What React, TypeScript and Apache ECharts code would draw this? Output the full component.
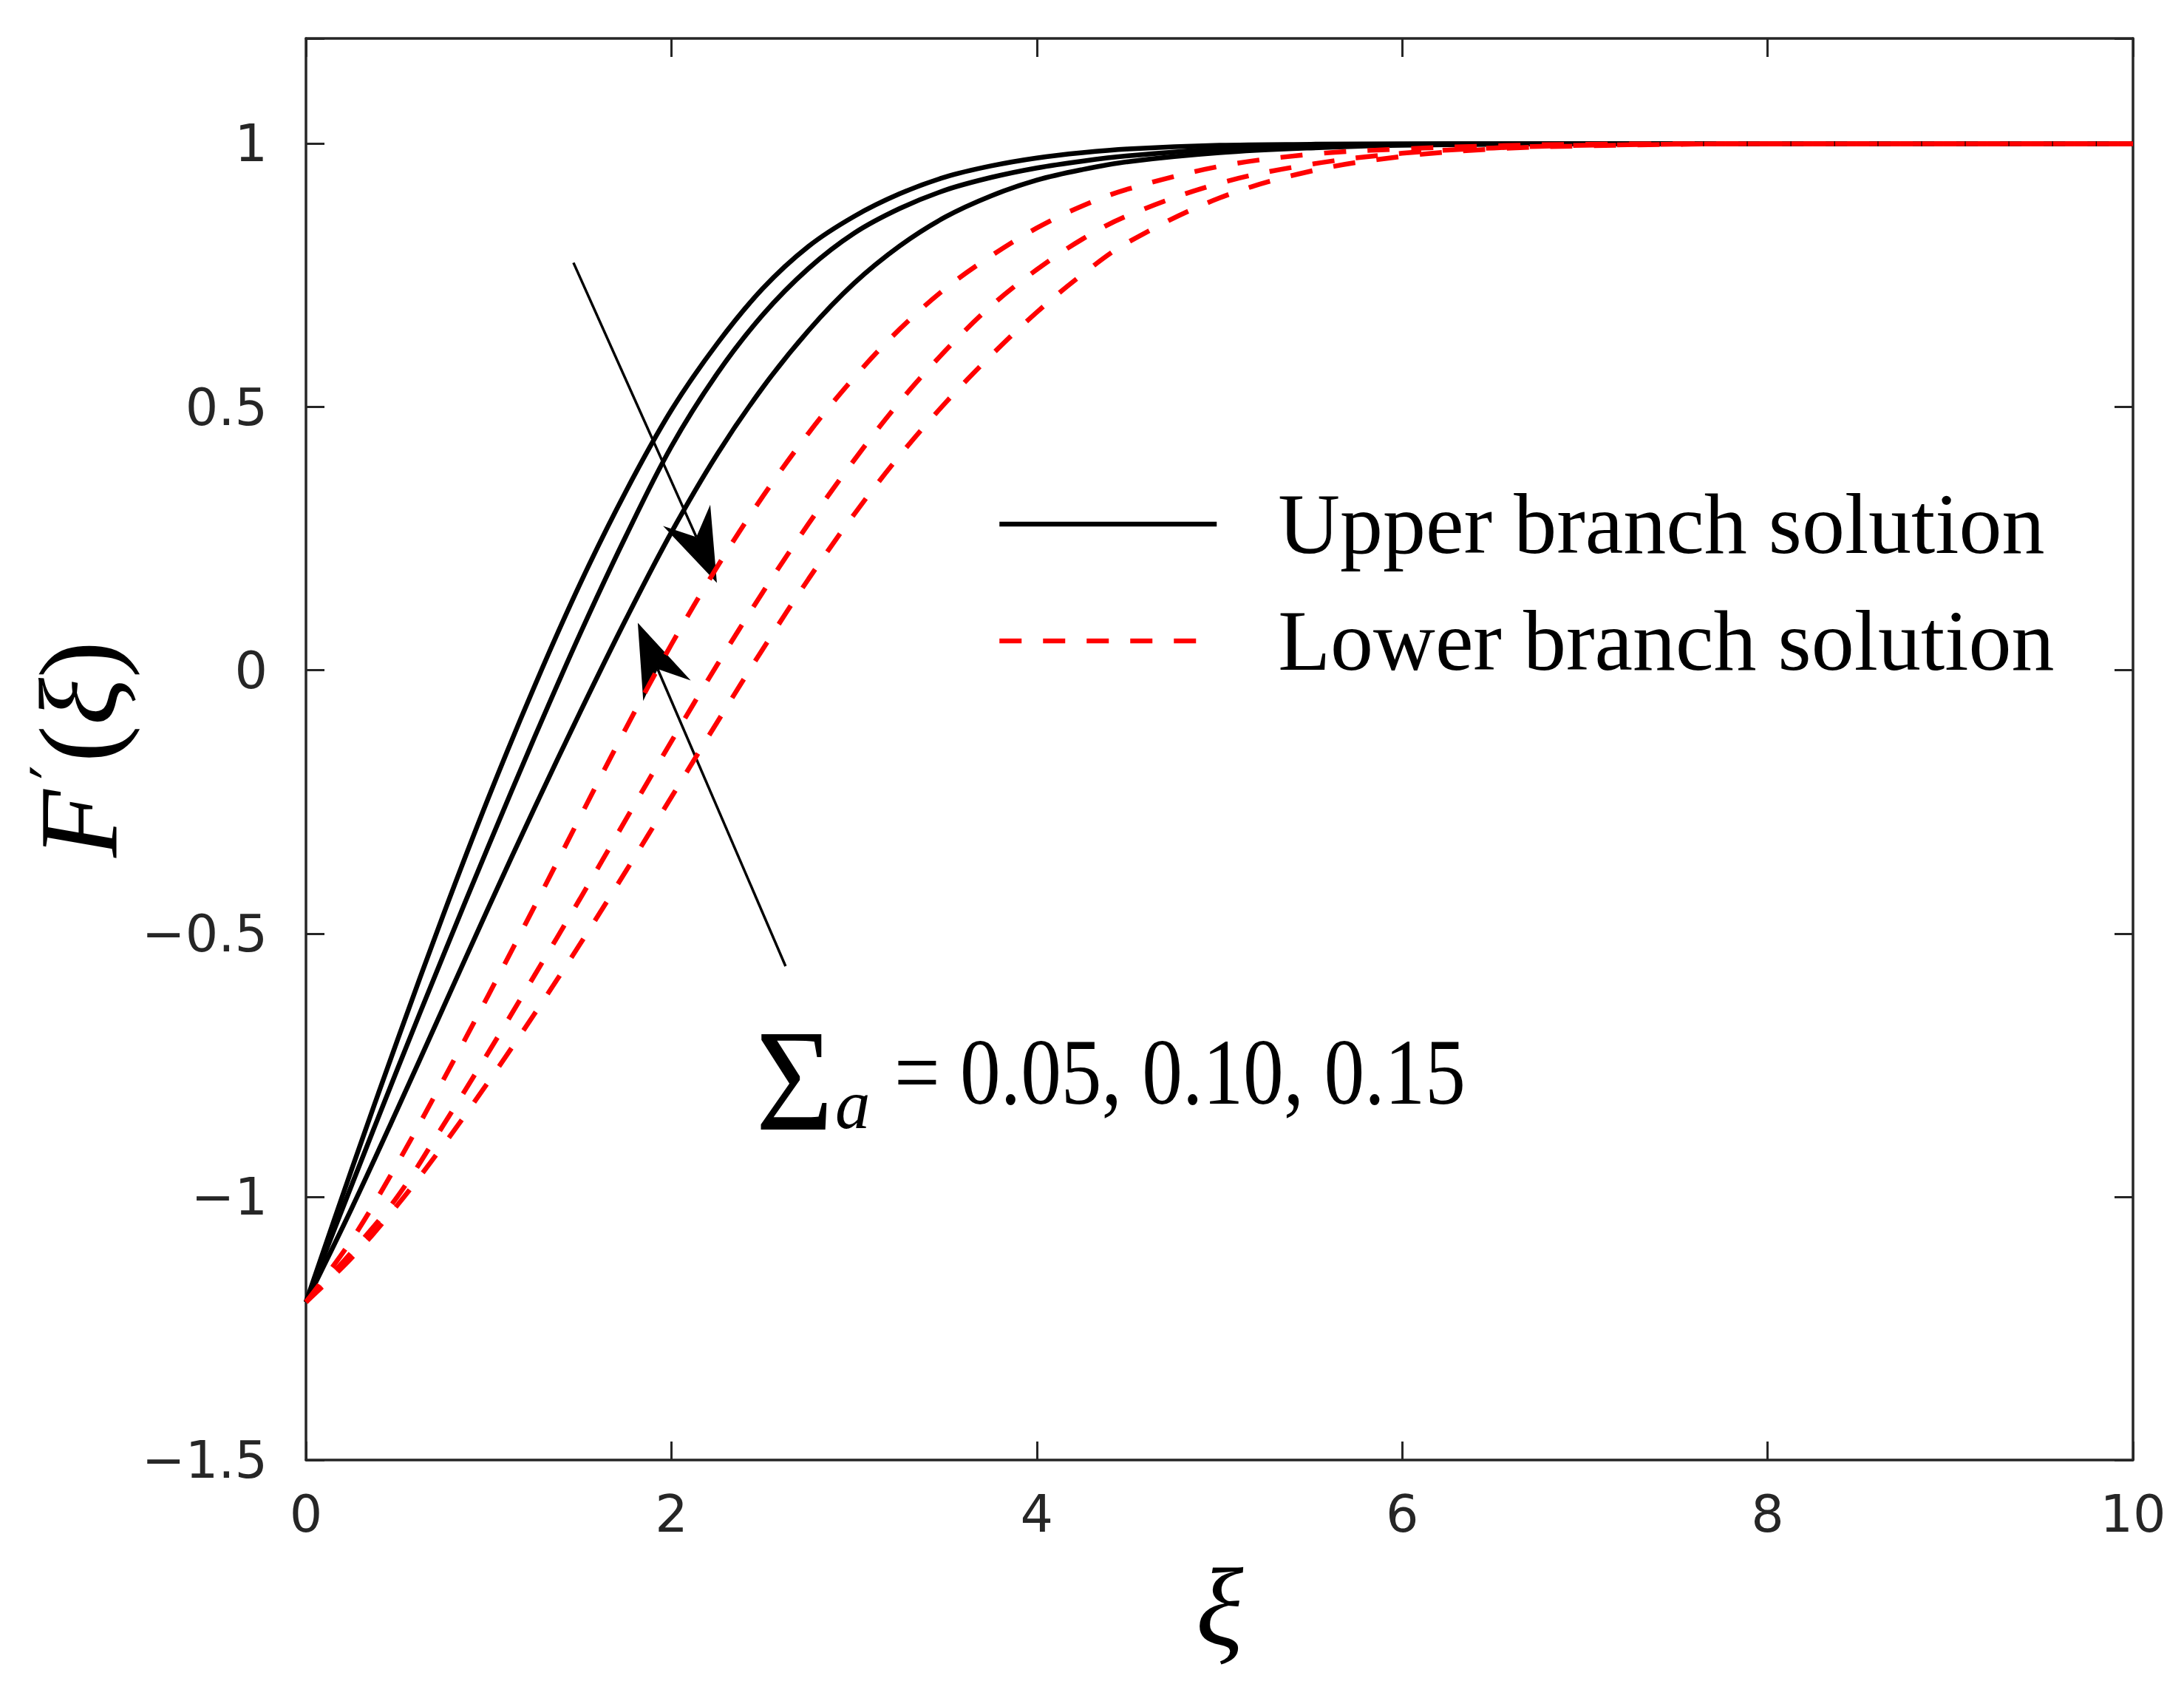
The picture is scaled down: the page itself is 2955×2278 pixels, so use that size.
import React, { useEffect, useRef } from "react";
import * as echarts from "echarts";

// xi grid (x values)
const xiGrid = [0, 0.25, 0.5, 0.75, 1, 1.25, 1.5, 1.75, 2, 2.25, 2.5, 2.75, 3, 3.25, 3.5, 3.75, 4, 4.25, 4.5, 5, 5.5, 6, 6.5, 7, 8, 9, 10];

// Upper branch solutions (Sigma_a = 0.05, 0.10, 0.15)
const upper1 = [-1.2, -0.948, -0.703, -0.466, -0.241, -0.031, 0.164, 0.339, 0.494, 0.62, 0.725, 0.805, 0.862, 0.905, 0.937, 0.958, 0.973, 0.983, 0.99, 0.997, 0.999, 1, 1, 1, 1, 1, 1];
const upper2 = [-1.2, -0.978, -0.758, -0.543, -0.333, -0.128, 0.069, 0.254, 0.425, 0.563, 0.675, 0.763, 0.83, 0.877, 0.912, 0.936, 0.954, 0.967, 0.977, 0.99, 0.996, 0.999, 1, 1, 1, 1, 1];
const upper3 = [-1.2, -1.022, -0.834, -0.642, -0.45, -0.262, -0.08, 0.096, 0.262, 0.41, 0.537, 0.645, 0.735, 0.806, 0.861, 0.901, 0.931, 0.951, 0.966, 0.983, 0.992, 0.997, 0.999, 1, 1, 1, 1];

// Lower branch solutions
const lower1 = [-1.2, -1.082, -0.937, -0.779, -0.616, -0.449, -0.279, -0.111, 0.049, 0.196, 0.33, 0.45, 0.556, 0.648, 0.725, 0.787, 0.84, 0.882, 0.914, 0.957, 0.98, 0.99, 0.996, 0.999, 1, 1, 1];
const lower2 = [-1.2, -1.105, -1.0, -0.865, -0.725, -0.58, -0.434, -0.284, -0.135, 0.01, 0.148, 0.278, 0.399, 0.51, 0.607, 0.692, 0.761, 0.819, 0.864, 0.925, 0.961, 0.982, 0.992, 0.997, 1, 1, 1];
const lower3 = [-1.2, -1.116, -1.016, -0.903, -0.781, -0.653, -0.52, -0.382, -0.241, -0.099, 0.04, 0.173, 0.296, 0.408, 0.508, 0.598, 0.68, 0.752, 0.813, 0.897, 0.948, 0.976, 0.99, 0.996, 1, 1, 1];

const upperSeries = [upper1, upper2, upper3];
const lowerSeries = [lower1, lower2, lower3];

const upperName = "Upper branch solution";
const lowerName = "Lower branch solution";
const annotationValues = "= 0.05, 0.10, 0.15";

// Arrow annotations (data coordinates: tail -> tip)
const arrowDefs = [
  { tail: [1.464, 0.774], tip: [2.249, 0.166] },
  { tail: [2.625, -0.562], tip: [1.816, 0.09] },
];

const AXIS_COLOR = "#262626";

function toPairs(ys: number[]) {
  return xiGrid.map((x, i) => [x, ys[i]]);
}

function arrowShapes(tail: number[], tip: number[]) {
  const L = 100, W = 35, N = 68;
  const dx = tip[0] - tail[0];
  const dy = tip[1] - tail[1];
  const len = Math.hypot(dx, dy);
  const ux = dx / len, uy = dy / len;
  const px = -uy, py = ux;
  const b1 = [tip[0] - L * ux + W * px, tip[1] - L * uy + W * py];
  const b2 = [tip[0] - L * ux - W * px, tip[1] - L * uy - W * py];
  const nt = [tip[0] - N * ux, tip[1] - N * uy];
  return [
    {
      type: "line",
      shape: { x1: tail[0], y1: tail[1], x2: nt[0], y2: nt[1] },
      style: { stroke: "#000", lineWidth: 3.5 },
      silent: true,
    },
    {
      type: "polygon",
      shape: { points: [tip, b1, nt, b2] },
      style: { fill: "#000" },
      silent: true,
    },
  ];
}

export default function App() {
  const ref = useRef<HTMLDivElement>(null);

  useEffect(() => {
    const chart = echarts.init(ref.current!, null, { renderer: "svg", width: 2955, height: 2278 });

    const commonXAxis = {
      type: "value",
      min: 0,
      max: 10,
      interval: 2,
      splitLine: { show: false },
      axisLine: { show: true, onZero: false, lineStyle: { color: AXIS_COLOR, width: 3.5 } },
      axisTick: { show: true, inside: true, length: 25, lineStyle: { color: AXIS_COLOR, width: 3 } },
    };
    const commonYAxis = {
      type: "value",
      min: -1.5,
      max: 1.2,
      interval: 0.5,
      splitLine: { show: false },
      axisLine: { show: true, onZero: false, lineStyle: { color: AXIS_COLOR, width: 3.5 } },
      axisTick: { show: true, inside: true, length: 25, lineStyle: { color: AXIS_COLOR, width: 3 } },
    };

    const tickFont = { fontFamily: "DejaVu Sans", fontSize: 70, color: AXIS_COLOR };

    const series: any[] = [];
    upperSeries.forEach((ys) => {
      series.push({
        type: "line",
        name: upperName,
        data: toPairs(ys),
        xAxisIndex: 0,
        yAxisIndex: 0,
        symbol: "none",
        smooth: 0.35,
        lineStyle: { color: "#000", width: 6.5, type: "solid" },
        itemStyle: { color: "#000" },
        z: 2,
      });
    });
    lowerSeries.forEach((ys) => {
      series.push({
        type: "line",
        name: lowerName,
        data: toPairs(ys),
        xAxisIndex: 0,
        yAxisIndex: 0,
        symbol: "none",
        smooth: 0.35,
        lineStyle: { color: "#ff0000", width: 6.5, type: [30, 29], cap: "butt" },
        itemStyle: { color: "#ff0000" },
        z: 3,
      });
    });

    const option: any = {
      animation: false,
      backgroundColor: "#ffffff",
      grid: { left: 414, right: 69, top: 52, bottom: 303, show: false },
      legend: {
        show: true,
        orient: "vertical",
        left: 1349,
        top: 651,
        padding: 0,
        itemGap: 42,
        itemWidth: 294,
        itemHeight: 6,
        selectedMode: false,
        data: [upperName, lowerName],
        itemStyle: { opacity: 0, color: "rgba(0,0,0,0)", borderWidth: 0 },
        lineStyle: { width: 6.5 },
        textStyle: {
          fontFamily: "Liberation Serif",
          fontSize: 116,
          lineHeight: 116,
          color: "#000",
          padding: [0, 0, 0, 78],
        },
      },
      xAxis: [
        {
          ...commonXAxis,
          position: "bottom",
          axisLabel: { show: true, margin: 38, ...tickFont },
          name: "ξ",
          nameLocation: "middle",
          nameGap: 124,
          nameTextStyle: { fontFamily: "Liberation Serif", fontStyle: "italic", fontSize: 150, color: "#000" },
        },
        {
          ...commonXAxis,
          position: "top",
          axisLabel: { show: false },
        },
      ],
      yAxis: [
        {
          ...commonYAxis,
          position: "left",
          axisLabel: {
            show: true,
            margin: 52,
            ...tickFont,
            formatter: (v: number) => (Math.abs(v - 1.2) < 1e-9 ? "" : String(v).replace("-", "\u2212")),
          },
          name: "{i|F}{p|\u2032}{n|(}{i|ξ}{n|)}",
          nameLocation: "middle",
          nameRotate: 90,
          nameGap: 232,
          nameTextStyle: {
            color: "#000",
            rich: {
              i: { fontFamily: "Liberation Serif", fontStyle: "italic", fontSize: 150, color: "#000" },
              p: { fontFamily: "DejaVu Serif", fontSize: 84, color: "#000", verticalAlign: "top", padding: [0, 4, 0, 14] },
              n: { fontFamily: "Liberation Serif", fontSize: 150, color: "#000" },
            },
          },
        },
        {
          ...commonYAxis,
          position: "right",
          axisLabel: { show: false },
        },
      ],
      series,
    };

    chart.setOption(option);

    const graphics: any[] = [];
    arrowDefs.forEach((a) => {
      const tail = chart.convertToPixel({ xAxisIndex: 0, yAxisIndex: 0 }, a.tail) as number[];
      const tip = chart.convertToPixel({ xAxisIndex: 0, yAxisIndex: 0 }, a.tip) as number[];
      graphics.push(...arrowShapes(tail, tip));
    });
    graphics.push(
      {
        type: "text",
        x: 1075,
        y: 1462,
        scaleX: 0.92,
        silent: true,
        style: { text: "Σ", fontFamily: "Liberation Serif", fontSize: 196, fill: "#000", align: "center", verticalAlign: "middle" },
      },
      {
        type: "text",
        x: 1130,
        y: 1494,
        silent: true,
        style: { text: "a", fontFamily: "Liberation Serif", fontStyle: "italic", fontSize: 95, fill: "#000", align: "left", verticalAlign: "middle" },
      },
      {
        type: "text",
        x: 1210,
        y: 1450,
        scaleX: 0.855,
        silent: true,
        style: { text: annotationValues, fontFamily: "Liberation Serif", fontSize: 128, fill: "#000", align: "left", verticalAlign: "middle" },
      }
    );
    chart.setOption({ graphic: graphics });

    return () => {
      chart.dispose();
    };
  }, []);

  return (
    <div
      ref={ref}
      style={{ position: "fixed", left: 0, top: 0, width: 2955, height: 2278, background: "#ffffff" }}
    />
  );
}
